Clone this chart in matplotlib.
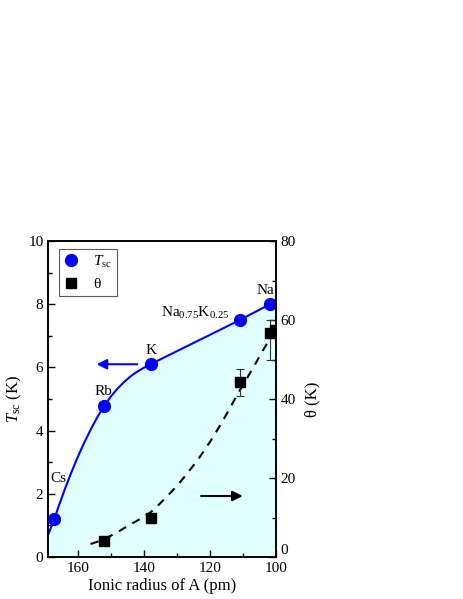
"""
plot.py
Tsc and theta versus ionic radius of A.
"""

import matplotlib
matplotlib.use('Agg')
import matplotlib.pyplot as plt

plt.rcParams['font.family'] = ['Liberation Serif', 'DejaVu Serif']
plt.rcParams['mathtext.fontset'] = 'custom'
plt.rcParams['mathtext.rm'] = 'Liberation Serif'
plt.rcParams['mathtext.it'] = 'Liberation Serif:italic'
plt.rcParams['font.size'] = 11

#
#  Data
#

names = ['Cs', 'Rb', 'K', 'Na$_{0.75}$K$_{0.25}$', 'Na']
radius = [167.2, 152.0, 138.0, 110.9, 101.8]
tsc = [1.2, 4.79, 6.1, 7.5, 8.0]

theta_x = [152.0, 138.0, 110.9, 101.8, 100.3]
theta = [4.1, 10.0, 44.2, 56.8, 57.5]
theta_err_lo = [0, 0, 3.4, 6.9, 0]
theta_err_hi = [0, 0, 3.3, 3.2, 0]

#  guide line through Tsc
tsc_line_x = [169, 168, 167.2, 166, 164, 162, 160, 158, 156, 154, 152,
              150, 148, 146, 144, 142, 140, 138, 110.9, 101.8]
tsc_line_y = [0.72, 0.98, 1.2, 1.56, 2.14, 2.68, 3.18, 3.64, 4.06, 4.45, 4.79,
              5.08, 5.33, 5.54, 5.72, 5.87, 5.99, 6.1, 7.5, 8.0]

#  dashed guide line through theta
theta_line_x = [156.2, 154, 152, 150, 148, 146, 144, 141.2, 138, 136, 134, 132,
                130, 128, 126.1, 124, 122, 120, 118, 116, 114, 111.2, 108.5,
                106, 104, 101.8, 100]
theta_line_y = [3.3, 3.9, 4.5, 5.4, 6.3, 7.3, 8.3, 9.6, 11.3, 12.8, 14.5, 16.2,
                18.0, 20.0, 22.0, 24.2, 26.6, 29.1, 31.8, 34.6, 37.6, 41.8, 45.6,
                49.2, 52.2, 55.2, 58.0]

#
#  Figure
#

fig = plt.figure(figsize=(4.63, 5.99), dpi=100)
ax1 = fig.add_axes([0.1043, 0.0701, 0.4914, 0.5275])
ax2 = ax1.twinx()

ax1.fill_between(tsc_line_x + [100], tsc_line_y + [8.0], 0,
                 color='#e0ffff', lw=0, zorder=0)
ax1.plot(tsc_line_x, tsc_line_y, color='#0000ff', lw=1.5, zorder=2)
ax1.plot(radius, tsc, 'o', color='#0000ff', ms=8.5, zorder=3, label='$T_{\\rm sc}$')

ax2.plot(theta_line_x, theta_line_y, color='black', lw=1.5,
         dashes=(4, 3.5), zorder=2)
ax2.errorbar(theta_x, theta, yerr=[theta_err_lo, theta_err_hi], fmt='s',
             color='black', ecolor='#333333', elinewidth=0.8, capsize=3,
             capthick=0.8, ms=7, zorder=3)

#  legend entries (both axes)
ax1.plot([], [], 's', color='black', ms=7, label='\u03b8')
leg = ax1.legend(loc='upper left', bbox_to_anchor=(0.049, 0.975), borderaxespad=0,
                 fancybox=False, edgecolor='#333333', handletextpad=1.0,
                 borderpad=0.3, labelspacing=0.5, handlelength=0.9, fontsize=11)
leg.get_frame().set_linewidth(0.8)

#  point labels
ax1.text(166.0, 2.47, 'Cs', ha='center', va='center')
ax1.text(152.4, 5.25, 'Rb', ha='center', va='center')
ax1.text(137.7, 6.55, 'K', ha='center', va='center')
ax1.text(114.2, 7.48, names[3], ha='right', va='bottom')
ax1.text(103.3, 8.42, 'Na', ha='center', va='center')

#  arrows
ax1.annotate('', xy=(155.2, 6.1), xytext=(141.2, 6.1),
             arrowprops=dict(arrowstyle='-|>', color='#0000ff', lw=1.5,
                             mutation_scale=15))
ax1.annotate('', xy=(109.2, 1.93), xytext=(123.5, 1.93),
             arrowprops=dict(arrowstyle='-|>', color='black', lw=1.5,
                             mutation_scale=15))

#
#  Axes
#

ax1.set_xlim(169, 100)
ax1.set_ylim(0, 10)
ax2.set_ylim(0, 80)

ax1.set_xticks([160, 140, 120, 100])
ax1.set_xticks([150, 130, 110], minor=True)
ax1.set_yticks([0, 2, 4, 6, 8, 10])
ax1.set_yticks([1, 3, 5, 7, 9], minor=True)
ax2.set_yticks([0, 20, 40, 60, 80])
ax2.set_yticks([10, 30, 50, 70], minor=True)

ax1.tick_params(which='both', direction='in', top=False, right=False,
                labelsize=11)
ax1.tick_params(which='major', length=5, width=1)
ax1.tick_params(which='minor', length=3, width=1)
ax2.tick_params(which='both', direction='in', labelsize=11)
ax2.tick_params(which='major', length=5, width=1)
ax2.tick_params(which='minor', length=3, width=1)

#  the right-hand "0" sits a little higher, clear of the "100" below it
ax2.yaxis.get_major_ticks()[0].label2.set_va('bottom')

for ax in (ax1, ax2):
    for sp in ax.spines.values():
        sp.set_linewidth(1.2)

ax1.set_xlabel('Ionic radius of A (pm)', fontsize=12, labelpad=2)
ax1.set_ylabel('$T_{\\rm sc}$ (K)', fontsize=12, labelpad=3)
ax2.set_ylabel('\u03b8 (K)', fontsize=12, labelpad=6)

fig.savefig('out.png', dpi=100)
